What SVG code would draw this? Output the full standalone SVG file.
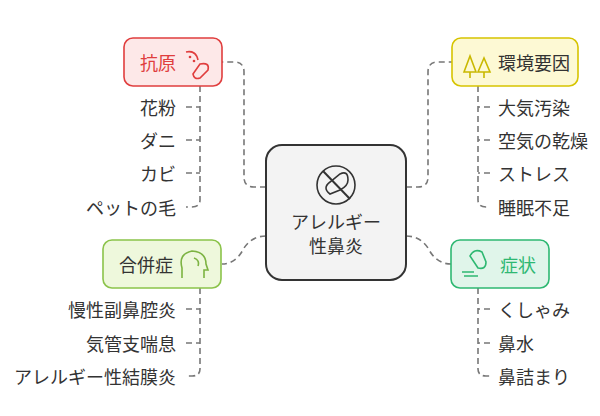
<svg xmlns="http://www.w3.org/2000/svg" width="600" height="416" viewBox="0 0 600 416">
<style>
text{font-family:"Noto Sans CJK JP","Noto Sans",sans-serif;font-size:18px;fill:#333;dominant-baseline:central}
.c{fill:none;stroke:#777;stroke-width:1.6;stroke-dasharray:6 4}
.ic{fill:none;stroke-width:1.6}
</style>
<rect width="600" height="416" fill="#fff"/>
<g id="connectors">
<path class="c" d="M266 187 H254 Q244 187 244 177 V72 Q244 62 234 62 H222"/>
<path class="c" d="M266 236 Q252 236 244 248 Q236 264 222 264"/>
<path class="c" d="M406 187 H418 Q428 187 428 177 V72 Q428 62 438 62 H452"/>
<path class="c" d="M406 236 Q420 236 428 248 Q436 264 451 264"/>
<path class="c" d="M200 86 V200 Q200 207 192 207 H186 M186 107 H200 M186 140 H200 M186 173 H200"/>
<path class="c" d="M478 86 V200 Q478 207 486 207 H490 M490 107 H478 M490 140 H478 M490 173 H478"/>
<path class="c" d="M200 288 V369 Q200 376 192 376 H186 M186 309 H200 M186 343 H200"/>
<path class="c" d="M478 288 V369 Q478 376 486 376 H490 M490 309 H478 M490 343 H478"/>
</g>
<g id="center">
<rect x="266" y="145" width="140" height="135" rx="16" fill="#f3f3f3" stroke="#333" stroke-width="2"/>
<circle cx="336" cy="185" r="19" class="ic" stroke="#333" stroke-width="2"/>
<line x1="323" y1="171" x2="350" y2="199" stroke="#333" stroke-width="2"/>
<path class="ic" stroke="#333" d="M330 194 Q322 188 330 182 L340 174 Q348 170 348 180 Q348 186 340 190 Z"/>
<text x="336" y="221" text-anchor="middle">アレルギー</text>
<text x="336" y="245" text-anchor="middle">性鼻炎</text>
</g>
<g id="antigen">
<rect x="124" y="38" width="98" height="48" rx="9" fill="#fde8e8" stroke="#e03e3e" stroke-width="1.6"/>
<text x="140" y="62" style="fill:#e03e3e">抗原</text>
<path class="ic" stroke="#e03e3e" d="M186 52 Q196 50 198 60 M200 64 Q210 62 208 70 L200 78 Q194 80 193 74 Z"/>
<circle cx="190" cy="57" r="1.3" fill="#e03e3e"/><circle cx="194" cy="61" r="1.3" fill="#e03e3e"/>
</g>
<g id="env">
<rect x="452" y="38" width="126" height="48" rx="9" fill="#fdf9d4" stroke="#d6c400" stroke-width="1.6"/>
<path class="ic" stroke="#c9b800" d="M464 72 L470 56 L476 72 Z M470 72 V78 M478 72 L484 58 L490 72 Z M484 72 V78"/>
<text x="498" y="62">環境要因</text>
</g>
<g id="comp">
<rect x="103" y="240" width="118" height="48" rx="9" fill="#eef8dc" stroke="#8bc34a" stroke-width="1.6"/>
<text x="119" y="264">合併症</text>
<path class="ic" stroke="#7cb342" d="M182 278 V268 Q178 254 192 251 Q206 252 206 264 L208 270 H204 V278 M194 258 Q200 260 198 266"/>
</g>
<g id="symptom">
<rect x="451" y="240" width="98" height="48" rx="9" fill="#e0f5ea" stroke="#2eb872" stroke-width="1.6"/>
<path class="ic" stroke="#2eb872" d="M470 256 Q474 248 482 252 L486 262 Q486 270 478 268 Z M462 272 H474 M464 276 H478"/>
<text x="500" y="264" style="fill:#2eb872">症状</text>
</g>
<g id="items">
<text x="176" y="107" text-anchor="end">花粉</text>
<text x="176" y="140" text-anchor="end">ダニ</text>
<text x="176" y="173" text-anchor="end">カビ</text>
<text x="176" y="207" text-anchor="end">ペットの毛</text>
<text x="498" y="107">大気汚染</text>
<text x="498" y="140">空気の乾燥</text>
<text x="498" y="173">ストレス</text>
<text x="498" y="207">睡眠不足</text>
<text x="176" y="309" text-anchor="end">慢性副鼻腔炎</text>
<text x="176" y="343" text-anchor="end">気管支喘息</text>
<text x="176" y="376" text-anchor="end">アレルギー性結膜炎</text>
<text x="498" y="309">くしゃみ</text>
<text x="498" y="343">鼻水</text>
<text x="498" y="376">鼻詰まり</text>
</g>
</svg>
